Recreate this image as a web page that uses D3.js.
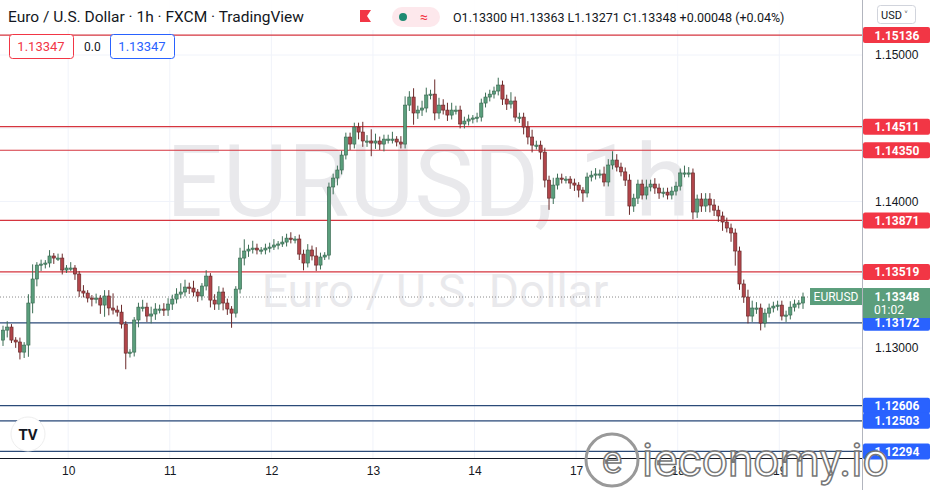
<!DOCTYPE html>
<html><head><meta charset="utf-8">
<script src="https://d3js.org/d3.v7.min.js"></script>
<style>body{margin:0;background:#fff;overflow:hidden}svg{display:block;font-family:Roboto,"Noto Sans",sans-serif}</style>
</head><body><svg id="c" width="930" height="490"></svg>
<script>
const firstOpen = 1.13054;
const closes = [1.13122,1.13143,1.13054,1.13041,1.12972,1.13020,1.13307,1.13471,1.13566,1.13573,
1.13580,1.13628,1.13614,1.13614,1.13532,1.13546,1.13546,1.13505,1.13389,1.13375,
1.13341,1.13334,1.13341,1.13293,1.13355,1.13273,1.13259,1.13245,1.13163,1.12965,
1.12972,1.13191,1.13279,1.13279,1.13218,1.13232,1.13266,1.13266,1.13259,1.13300,
1.13334,1.13368,1.13382,1.13416,1.13409,1.13382,1.13355,1.13423,1.13491,1.13327,
1.13300,1.13382,1.13307,1.13266,1.13238,1.13402,1.13614,1.13662,1.13675,1.13682,
1.13669,1.13669,1.13682,1.13689,1.13703,1.13710,1.13723,1.13750,1.13744,1.13744,
1.13641,1.13580,1.13669,1.13628,1.13566,1.13621,1.13634,1.14099,1.14160,1.14215,
1.14317,1.14440,1.14392,1.14508,1.14474,1.14413,1.14413,1.14399,1.14413,1.14392,
1.14426,1.14426,1.14426,1.14406,1.14392,1.14658,1.14713,1.14604,1.14624,1.14638,
1.14727,1.14733,1.14604,1.14658,1.14624,1.14590,1.14624,1.14624,1.14529,1.14549,
1.14563,1.14570,1.14576,1.14672,1.14713,1.14733,1.14754,1.14795,1.14699,1.14665,
1.14686,1.14576,1.14576,1.14508,1.14440,1.14385,1.14385,1.14337,1.14146,1.14023,
1.14112,1.14160,1.14153,1.14153,1.14126,1.14112,1.14078,1.14058,1.14167,1.14180,
1.14188,1.14188,1.14133,1.14249,1.14283,1.14235,1.14202,1.14146,1.13969,1.14023,
1.14119,1.14044,1.14099,1.14119,1.14092,1.14058,1.14064,1.14044,1.14071,1.14105,
1.14195,1.14195,1.14195,1.13928,1.14017,1.13969,1.14017,1.13976,1.13941,1.13901,
1.13860,1.13819,1.13785,1.13662,1.13437,1.13348,1.13218,1.13273,1.13273,1.13170,
1.13238,1.13273,1.13286,1.13293,1.13218,1.13225,1.13279,1.13300,1.13307,1.13348];
const wickUp = [3,4,2,2,3,2,6,10,2,3, 2,4,2,3,3,2,4,2,2,4, 2,2,3,2,4,4,10,3,5,2, 2,2,3,5,3,5,4,3,4,4,
3,4,6,5,3,5,2,2,4,2, 4,4,3,3,2,2,7,8,3,5, 3,2,3,3,4,2,4,3,4,2, 3,3,4,3,6,3,2,3,3,3,
3,3,3,3,3,7,4,8,5,3, 3,3,5,2,4,6,4,6,3,5, 5,3,10,5,4,5,5,3,3,3, 3,2,3,3,3,3,3,5,3,3,
6,3,3,3,4,5,3,3,3,3, 5,3,3,2,2,3,2,2,3,3, 4,3,5,4,6,4,3,3,4,3, 3,3,5,3,4,3,3,3,3,3,
3,5,4,3,3,4,4,4,4,3, 3,3,3,3,3,3,5,5,4,3, 3,3,3,3,3,3,4,3,2,3];
const wickDn = [4,5,2,4,5,4,8,7,5,4, 3,3,4,2,3,2,2,4,4,3, 3,5,3,6,8,5,3,3,3,11, 3,3,5,3,4,5,4,3,4,4,
4,3,3,3,4,3,4,3,3,5, 4,4,5,4,10,3,3,5,4,3, 3,3,3,3,2,3,2,3,3,3, 4,5,3,3,4,3,2,3,5,5,
3,3,4,3,5,4,4,9,4,4, 5,3,3,3,3,3,4,8,4,4, 3,3,5,4,3,4,3,3,3,3, 3,3,3,3,3,3,3,3,4,4,
3,3,4,5,5,5,3,5,5,8, 4,3,3,3,4,4,5,6,3,3, 3,3,3,3,3,3,3,4,6,4, 4,3,3,3,4,4,3,3,3,3,
3,3,3,5,4,4,4,5,4,4, 6,3,6,10,4,4,5,4,4,5, 3,3,3,3,3,4,3,3,3,4];
const redLevels = [1.15136,1.14511,1.14350,1.13871,1.13519];
const blueLevels = [1.13172,1.12606,1.12503,1.12294];
const priceTicks = [1.15000,1.14000,1.13000];
const gridPrices = [1.15,1.145,1.14,1.135,1.13,1.125];
const dayLabels = ["10","11","12","13","14","17","18","19"];
const dayIndex = [15.4,39.4,63.4,87.4,111.4,135.4,159.4,183.4];
const lastPrice = 1.13348;

const candles = closes.map((c,i)=>{
  const o = i===0?firstOpen:closes[i-1];
  return {i,o,c,h:Math.max(o,c)+wickUp[i]/10000,l:Math.min(o,c)-wickDn[i]/10000};
});
const svg = d3.select("#c");
const PR=862;
const y = d3.scaleLinear().domain([1.15,1.13]).range([55,348]);
const x = d3.scaleLinear().domain([0,189]).range([3,803]);

svg.append("g").selectAll("line").data(gridPrices).join("line")
 .attr("x1",0).attr("x2",PR).attr("y1",d=>y(d)).attr("y2",d=>y(d)).attr("stroke","#f0f3fa");
svg.append("g").selectAll("line").data(dayIndex).join("line")
 .attr("x1",d=>x(d)).attr("x2",d=>x(d)).attr("y1",0).attr("y2",458).attr("stroke","#f0f3fa");

svg.append("text").attr("x",428).attr("y",216).attr("text-anchor","middle").attr("font-size",100)
 .attr("fill","#e9e9ec").text("EURUSD, 1h");
svg.append("text").attr("x",435).attr("y",307).attr("text-anchor","middle").attr("font-size",46)
 .attr("fill","#e9e9ec").text("Euro / U.S. Dollar");

svg.append("g").selectAll("line").data(redLevels).join("line")
 .attr("x1",0).attr("x2",PR).attr("y1",d=>y(d)).attr("y2",d=>y(d)).attr("stroke","#d5353f").attr("stroke-width",1.2);
svg.append("g").selectAll("line").data(blueLevels).join("line")
 .attr("x1",0).attr("x2",PR).attr("y1",d=>y(d)).attr("y2",d=>y(d)).attr("stroke","#2b4a78").attr("stroke-width",1.2);
svg.append("line").attr("x1",0).attr("x2",PR).attr("y1",y(lastPrice)).attr("y2",y(lastPrice))
 .attr("stroke","#8a8a8a").attr("stroke-dasharray","1,2");

const g = svg.append("g");
g.selectAll("line").data(candles).join("line")
 .attr("x1",d=>x(d.i)).attr("x2",d=>x(d.i)).attr("y1",d=>y(d.h)).attr("y2",d=>y(d.l))
 .attr("stroke",d=>d.c>=d.o?"#3c6e55":"#6b2a2a").attr("stroke-width",1);
g.selectAll("rect").data(candles).join("rect")
 .attr("x",d=>x(d.i)-1.6).attr("width",3.2)
 .attr("y",d=>y(Math.max(d.o,d.c))).attr("height",d=>Math.max(1.2,Math.abs(y(d.o)-y(d.c))))
 .attr("fill",d=>d.c>=d.o?"#5a9e7c":"#b1454a").attr("stroke",d=>d.c>=d.o?"#35644c":"#5e2424").attr("stroke-width",0.6);

svg.append("line").attr("x1",PR+0.5).attr("x2",PR+0.5).attr("y1",0).attr("y2",490).attr("stroke","#b2b5be");
svg.append("line").attr("x1",0).attr("x2",PR).attr("y1",458.5).attr("y2",458.5).attr("stroke","#131722");
const ax = svg.append("g").attr("transform",`translate(${PR},0)`)
 .call(d3.axisRight(y).tickValues(priceTicks).tickFormat(d3.format(".5f")).tickSize(0).tickPadding(13));
ax.select(".domain").remove();
ax.selectAll("text").attr("font-size",12).attr("fill","#131722");
const xa = svg.append("g").attr("transform","translate(0,458)")
 .call(d3.axisBottom(x).tickValues(dayIndex).tickFormat((d,i)=>dayLabels[i]).tickSize(0).tickPadding(8));
xa.select(".domain").remove();
xa.selectAll("text").attr("font-size",12).attr("fill","#131722");

function label(p,bg,txt){
  const yy=y(p);
  svg.append("rect").attr("x",PR+1).attr("y",yy-8).attr("width",67).attr("height",16).attr("rx",2).attr("fill",bg);
  svg.append("text").attr("x",PR+35).attr("y",yy+4.5).attr("text-anchor","middle").attr("font-size",12).attr("font-weight","bold").attr("fill","#fff").text(txt);
}
redLevels.forEach(p=>label(p,"#f23645",d3.format(".5f")(p)));
blueLevels.forEach(p=>label(p,"#2962ff",d3.format(".5f")(p)));
svg.append("rect").attr("x",PR+1).attr("y",y(lastPrice)-9).attr("width",67).attr("height",30).attr("fill","#5b9e7c");
svg.append("text").attr("x",PR+35).attr("y",y(lastPrice)+4).attr("text-anchor","middle").attr("font-size",12).attr("font-weight","bold").attr("fill","#fff").text("1.13348");
svg.append("text").attr("x",PR+12).attr("y",y(lastPrice)+17).attr("font-size",12).attr("fill","#fff").text("01:02");
svg.append("rect").attr("x",810).attr("y",y(lastPrice)-9).attr("width",52).attr("height",17).attr("fill","#5b9e7c");
svg.append("text").attr("x",836).attr("y",y(lastPrice)+4).attr("text-anchor","middle").attr("font-size",12).attr("fill","#fff").text("EURUSD");

svg.append("rect").attr("x",0).attr("y",0).attr("width",PR).attr("height",30).attr("fill","#fff").attr("opacity",0.9);
svg.append("text").attr("x",8).attr("y",22).attr("font-size",15.5).attr("fill","#131722").text("Euro / U.S. Dollar · 1h · FXCM · TradingView");
svg.append("path").attr("d","M360,10h11l-4,6l4,6h-11z").attr("fill","#f23645");
svg.append("rect").attr("x",392).attr("y",7).attr("width",48).attr("height",20).attr("rx",10).attr("fill","#fde8ec");
svg.append("circle").attr("cx",403).attr("cy",17).attr("r",4).attr("fill","#1e8a72");
svg.append("text").attr("x",420).attr("y",22).attr("font-size",14).attr("fill","#f23645").text("≈");
svg.append("text").attr("x",453).attr("y",22).attr("font-size",12.5).attr("fill","#131722").text("O1.13300 H1.13363 L1.13271 C1.13348 +0.00048 (+0.04%)");
svg.append("rect").attr("x",877.5).attr("y",5.5).attr("width",38).attr("height",18).attr("rx",3).attr("fill","#fff").attr("stroke","#d1d4dc");
svg.append("text").attr("x",881).attr("y",19).attr("font-size",11).attr("fill","#131722").text("USD ˅");
svg.append("rect").attr("x",9.5).attr("y",34.5).attr("width",64).attr("height",24).attr("rx",3).attr("fill","#fff").attr("stroke","#f23645");
svg.append("text").attr("x",41).attr("y",51).attr("text-anchor","middle").attr("font-size",13).attr("fill","#f23645").text("1.13347");
svg.append("text").attr("x",84).attr("y",51).attr("font-size",12).attr("fill","#131722").text("0.0");
svg.append("rect").attr("x",110.5).attr("y",34.5).attr("width",64).attr("height",24).attr("rx",3).attr("fill","#fff").attr("stroke","#2962ff");
svg.append("text").attr("x",142).attr("y",51).attr("text-anchor","middle").attr("font-size",13).attr("fill","#2962ff").text("1.13347");
svg.append("circle").attr("cx",28).attr("cy",434).attr("r",17).attr("fill","#fff").attr("stroke","#eee");
svg.append("text").attr("x",28).attr("y",440).attr("text-anchor","middle").attr("font-size",15).attr("font-weight","bold").attr("fill","#131722").text("TV");
svg.append("circle").attr("cx",612).attr("cy",460).attr("r",26).attr("fill","none").attr("stroke","#999").attr("stroke-width",3);
svg.append("text").attr("x",612).attr("y",473).attr("text-anchor","middle").attr("font-size",38).attr("fill","#fff").attr("stroke","#777").attr("stroke-width",1.5).text("e");
svg.append("text").attr("x",642).attr("y",476).attr("font-size",46).attr("fill","#fff").attr("stroke","#777").attr("stroke-width",1.5).text("ieconomy.io");
</script></body></html>
